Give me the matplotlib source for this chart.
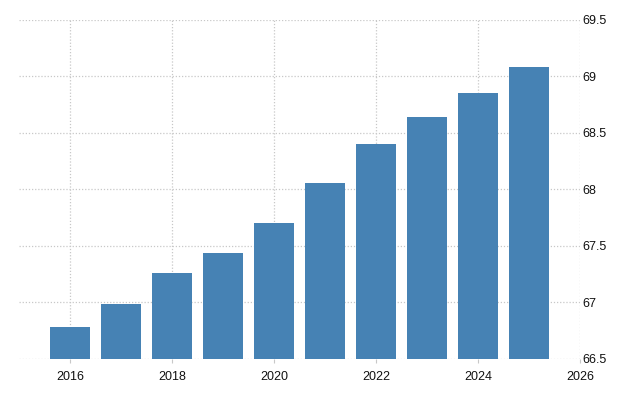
import matplotlib
matplotlib.use('Agg')
import matplotlib.pyplot as plt

years = [2016, 2017, 2018, 2019, 2020, 2021, 2022, 2023, 2024, 2025]
values = [66.78, 66.99, 67.26, 67.44, 67.70, 68.06, 68.40, 68.64, 68.85, 69.08]
yticks = [66.5, 67, 67.5, 68, 68.5, 69, 69.5]
ylabels = ['66.5', '67', '67.5', '68', '68.5', '69', '69.5']
xticks = [2016, 2018, 2020, 2022, 2024, 2026]

plt.rcParams['font.family'] = ['Liberation Sans', 'DejaVu Sans']

fig = plt.figure(figsize=(6.4, 4), dpi=100)
ax = fig.add_axes([19/640, 41/400, 561/640, 339/400])

ax.bar(years, [v - 66.5 for v in values], bottom=66.5, width=0.78,
       color='#4682b4', zorder=3)

ax.set_xlim(2015, 2026)
ax.set_ylim(66.5, 69.5)
ax.set_xticks(xticks)
ax.set_xticklabels([str(x) for x in xticks])
ax.set_yticks(yticks)
ax.set_yticklabels(ylabels)
ax.yaxis.tick_right()

ax.grid(True, color='#c8c8c8', linestyle=(0, (1, 1.5)), linewidth=0.9, zorder=0)
for s in ax.spines.values():
    s.set_visible(False)
ax.tick_params(axis='y', length=0, pad=2, labelsize=9, labelcolor='#111111')
ax.tick_params(axis='x', length=3, color='#c8c8c8', pad=6, labelsize=9,
               labelcolor='#111111')

fig.savefig('out.png', dpi=100)
